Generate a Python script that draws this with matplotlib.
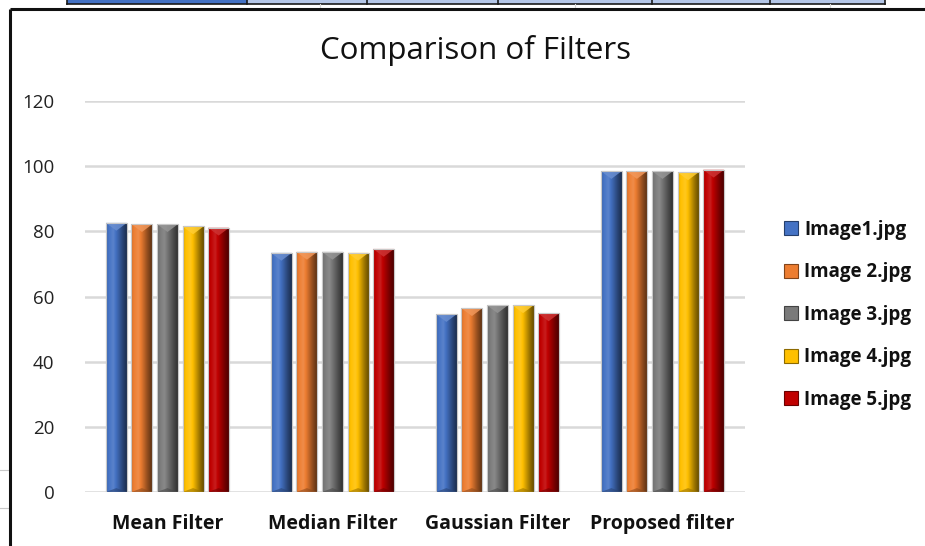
import numpy as np
import matplotlib
matplotlib.use("Agg")
import matplotlib.pyplot as plt
from matplotlib.patches import Rectangle, Polygon, Patch
from matplotlib.colors import to_rgb

plt.rcParams['font.family'] = ['Open Sans', 'DejaVu Sans']

categories = ["Mean Filter", "Median Filter", "Gaussian Filter", "Proposed filter"]
series_names = ["Image1.jpg", "Image 2.jpg", "Image 3.jpg", "Image 4.jpg", "Image 5.jpg"]
image1 = [82.6, 73.4, 54.6, 98.5]
image2 = [82.2, 73.7, 56.4, 98.5]
image3 = [82.2, 73.7, 57.3, 98.5]
image4 = [81.5, 73.4, 57.3, 98.1]
image5 = [81.1, 74.6, 54.8, 98.9]
series_values = [image1, image2, image3, image4, image5]
colors = ["#4472C4", "#ED7D31", "#7A7A7A", "#FFC000", "#C00000"]
y_ticks = [0, 20, 40, 60, 80, 100, 120]

W, H = 925, 546
fig = plt.figure(figsize=(W / 100, H / 100), dpi=100)

# spreadsheet strip above the chart object
strip = fig.add_axes([0, 0, 1, 1], zorder=-5)
strip.set_xlim(0, W)
strip.set_ylim(H, 0)
strip.axis("off")
strip.add_patch(Rectangle((67, 0), 180, 3.5, facecolor="#4472C4", edgecolor="none"))
strip.add_patch(Rectangle((247, 0), 638, 3.5, facecolor="#B4C6E7", edgecolor="none"))
for xb in [67, 247, 367, 498, 652, 770, 885]:
    strip.plot([xb, xb], [0, 4], color="#1a1a1a", lw=1.2)
strip.plot([67, 885], [4, 4], color="#1a1a1a", lw=1.2)
for xb in [320, 575, 830]:
    strip.plot([xb, xb], [4, 8], color="#d8d8d8", lw=0.8)
for yb in [470, 508]:
    strip.plot([0, 8], [yb, yb], color="#c8c8c8", lw=0.8)
# chart frame
strip.plot([10, W], [9, 9], color="#111111", lw=2.2, solid_capstyle="butt")
strip.plot([10, 10], [9, H], color="#111111", lw=2.2, solid_capstyle="butt")

ax = fig.add_axes([85 / W, 1 - 492 / H, (745 - 85) / W, (492 - 101) / H])
ax.set_xlim(0, 4)
ax.set_ylim(0, 120)
for s in ax.spines.values():
    s.set_visible(False)
ax.set_yticks(y_ticks)
ax.yaxis.grid(True, color="#d9d9d9", lw=1.8)
ax.set_axisbelow(True)
ax.tick_params(axis="y", length=0, pad=22, labelsize=13.5, labelcolor="#222222")
ax.set_xticks(np.arange(len(categories)) + 0.5)
ax.set_xticklabels(categories, fontsize=14, fontweight="bold", color="#111111")
ax.tick_params(axis="x", length=0, pad=16)

bar_w = 0.127
step = 0.155
x_centers = np.arange(len(categories)) + 0.5


def shade(color, f):
    r, g, b = to_rgb(color)
    if f >= 1:
        return tuple(c + (1 - c) * (f - 1) for c in (r, g, b))
    return tuple(c * f for c in (r, g, b))


profile_t = np.array([0.0, 0.12, 0.35, 0.55, 0.8, 1.0])
profile_f = np.array([0.85, 1.0, 1.12, 0.9, 0.6, 0.4])

for i, (vals, col) in enumerate(zip(series_values, colors)):
    offs = (i - 2) * step
    bars = ax.bar(x_centers + offs, vals, width=bar_w, color=col,
                  edgecolor="#c8c8c8", linewidth=0.8, zorder=2)
    t = np.linspace(0, 1, 64)
    f = np.interp(t, profile_t, profile_f)
    grad = np.array([[shade(col, ff) for ff in f]])
    for b in bars:
        x0, w, h = b.get_x(), b.get_width(), b.get_height()
        im = ax.imshow(grad, extent=[x0, x0 + w, 0, h], aspect="auto",
                       zorder=3, interpolation="bilinear")
        im.set_clip_path(b)
        d = 2.4
        ax.add_patch(Polygon([(x0, h), (x0 + w, h), (x0 + w / 2, h - d)],
                             closed=True, facecolor=shade(col, 1.2),
                             edgecolor="none", alpha=0.85, zorder=4))
        ax.add_patch(Polygon([(x0, 0), (x0 + w, 0), (x0 + w / 2, 1.2)],
                             closed=True, facecolor=shade(col, 0.6),
                             edgecolor="none", alpha=0.6, zorder=4))
        ax.add_patch(Rectangle((x0, 0), w, h, facecolor="none",
                               edgecolor="#c8c8c8", lw=0.8, zorder=5))

handles = [Patch(facecolor=c, edgecolor=shade(c, 0.55), lw=0.8) for c in colors]
fig.legend(handles, series_names, loc="upper left",
           bbox_to_anchor=(767 / W, 1 - 203 / H), frameon=False,
           prop={"size": 13.5, "weight": "bold"}, handlelength=0.75,
           handleheight=0.75, handletextpad=0.35, labelspacing=1.2,
           labelcolor="#111111")

fig.text(476 / W, 1 - 51 / H, "Comparison of Filters", ha="center", va="center",
         fontsize=22.5, color="#111111")

fig.savefig("out.png", dpi=100)
